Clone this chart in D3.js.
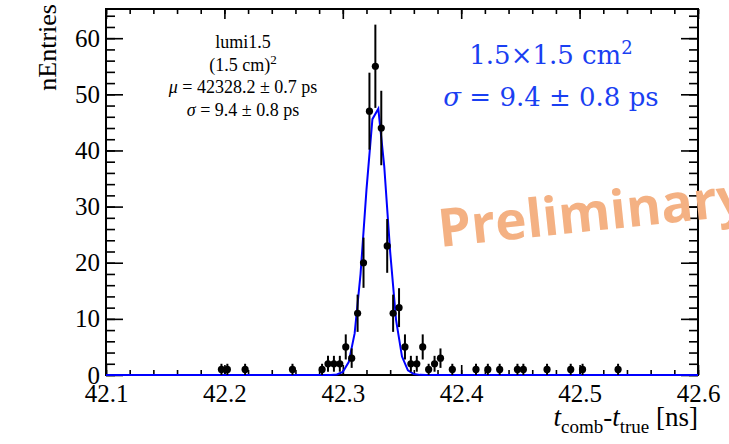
<!DOCTYPE html>
<html>
<head>
<meta charset="utf-8">
<script src="https://cdn.jsdelivr.net/npm/d3@7"></script>
<style>
  body { margin: 0; background: #fff; }
  svg { display: block; }
  .serif { font-family: "Liberation Serif", "Times New Roman", serif; }
</style>
</head>
<body>
<svg id="chart" width="729" height="444"></svg>
<script>
/*
  Time resolution histogram with gaussian fit.
*/

// Histogram bins: centre (ns) and entries. Empty bins are left out.
const binCenters = [42.1975, 42.2025, 42.2175, 42.2575, 42.2825, 42.2875, 42.2925, 42.2975,
    42.3025, 42.3075, 42.3125, 42.3175, 42.3225, 42.3275, 42.3325, 42.3375, 42.3425, 42.3475,
    42.3525, 42.3575, 42.3625, 42.3675, 42.3725, 42.3775, 42.3825, 42.3925, 42.4125, 42.4225,
    42.4325, 42.4475, 42.4525, 42.4725, 42.4925, 42.5025, 42.5325];
const binCounts = [1, 1, 1, 1, 1, 2, 2, 2,
    5, 3, 11, 20, 47, 55, 44, 23, 11, 12,
    5, 2, 2, 5, 1, 2, 3, 1, 1, 1,
    1, 1, 1, 1, 1, 1, 1];

// Gaussian fit result (ns) and how the curve is sampled.
const fitMean = 42.3282;
const fitSigma = 0.0094;
const fitAmp = 48.3;
const fitNpx = 100;

// Axis ranges and ticks.
const xDomain = [42.1, 42.6];
const yDomain = [0, 65.2];
const xMajorTicks = [42.1, 42.2, 42.3, 42.4, 42.5, 42.6];
const xTickLabels = ["42.1", "42.2", "42.3", "42.4", "42.5", "42.6"];
const yMajorTicks = [0, 10, 20, 30, 40, 50, 60];
const yTickLabels = ["0", "10", "20", "30", "40", "50", "60"];

// Text boxes: [symbol, rest] per line.
const statsLines = [["", "lumi1.5"], ["", "(1.5 cm)"], ["\u03BC", " = 42328.2 \u00B1 0.7 ps"], ["\u03C3", " = 9.4 \u00B1 0.8 ps"]];
const noteLines = [["", "1.5\u00D71.5 cm"], ["\u03C3", " = 9.4 \u00B1 0.8 ps"]];

// Frame of the pad.
let svg = d3.select("#chart");
let padLeft = 106, padRight = 698, padTop = 9, padBottom = 375;

let x = d3.scaleLinear().domain(xDomain).range([padLeft, padRight]);
let y = d3.scaleLinear().domain(yDomain).range([padBottom, padTop]);

svg.append("rect").attr("width", 729).attr("height", 444).attr("fill", "#fff");

// Minor tick positions (every 0.02 ns and every 2 entries).
let xMinor = d3.range(26).map(i => xDomain[0] + i * 0.02);
let yMinor = d3.range(33).map(i => i * 2);

const drawAxis = (axis, transform, labels) => {
    let g = svg.append("g").attr("transform", transform).call(axis);
    g.attr("font-family", null).attr("font-size", null).attr("class", "serif");
    g.select(".domain").remove();
    g.selectAll("line").attr("stroke", "#000").attr("stroke-width", 1.6);
    g.selectAll("text").attr("fill", "#000").style("font-size", "25px");
    if (!labels) g.selectAll("text").remove();
    return g;
};

// Bottom axis with labels, ticks pointing inwards.
drawAxis(d3.axisBottom(x).tickValues(xMinor).tickSize(-5).tickSizeOuter(0).tickFormat(""), `translate(0,${padBottom})`, false);
drawAxis(d3.axisBottom(x).tickValues(xMajorTicks).tickSize(-10).tickSizeOuter(0).tickPadding(9)
    .tickFormat((d, i) => xTickLabels[i]), `translate(0,${padBottom})`, true);
// Top mirror ticks.
drawAxis(d3.axisTop(x).tickValues(xMinor).tickSize(-5).tickSizeOuter(0), `translate(0,${padTop})`, false);
drawAxis(d3.axisTop(x).tickValues(xMajorTicks).tickSize(-10).tickSizeOuter(0), `translate(0,${padTop})`, false);

// Left axis with labels.
drawAxis(d3.axisLeft(y).tickValues(yMinor).tickSize(-9).tickSizeOuter(0), `translate(${padLeft},0)`, false);
drawAxis(d3.axisLeft(y).tickValues(yMajorTicks).tickSize(-17).tickSizeOuter(0).tickPadding(6)
    .tickFormat((d, i) => yTickLabels[i]), `translate(${padLeft},0)`, true);
// Right mirror ticks.
drawAxis(d3.axisRight(y).tickValues(yMinor).tickSize(-9).tickSizeOuter(0), `translate(${padRight},0)`, false);
drawAxis(d3.axisRight(y).tickValues(yMajorTicks).tickSize(-17).tickSizeOuter(0), `translate(${padRight},0)`, false);

// Frame.
svg.append("rect")
    .attr("x", padLeft).attr("y", padTop)
    .attr("width", padRight - padLeft).attr("height", padBottom - padTop)
    .attr("fill", "none").attr("stroke", "#000").attr("stroke-width", 2);

// Watermark.
svg.append("text")
    .attr("transform", "translate(440,247) rotate(-6)")
    .attr("fill", "#f4b183")
    .style("font-family", "'Open Sans', sans-serif")
    .style("font-weight", 700)
    .style("font-size", "53px")
    .text("Preliminary");

// Fit curve, sampled like a TF1 over the full range.
let fitX = d3.range(fitNpx + 1).map(i => xDomain[0] + i * (xDomain[1] - xDomain[0]) / fitNpx);
let fitLine = d3.line()
    .x(d => x(d))
    .y(d => y(fitAmp * Math.exp(-0.5 * Math.pow((d - fitMean) / fitSigma, 2))));
svg.append("path")
    .datum(fitX)
    .attr("d", fitLine)
    .attr("fill", "none")
    .attr("stroke", "#0000ff")
    .attr("stroke-width", 2);

// Data points with poisson error bars.
let points = binCenters.map((c, i) => ({ c: c, n: binCounts[i] }));
let pts = svg.append("g");
pts.selectAll("line")
    .data(points)
    .enter().append("line")
    .attr("x1", d => x(d.c)).attr("x2", d => x(d.c))
    .attr("y1", d => y(d.n - Math.sqrt(d.n)))
    .attr("y2", d => y(d.n + Math.sqrt(d.n)))
    .attr("stroke", "#000").attr("stroke-width", 2);
pts.selectAll("circle")
    .data(points)
    .enter().append("circle")
    .attr("cx", d => x(d.c)).attr("cy", d => y(d.n))
    .attr("r", 3.6)
    .attr("fill", "#000");

// Axis titles.
svg.append("text")
    .attr("class", "serif")
    .attr("transform", "translate(56,4) rotate(-90)")
    .attr("text-anchor", "end")
    .style("font-size", "26px")
    .text("nEntries");

let xt = svg.append("text")
    .attr("class", "serif")
    .attr("x", padRight).attr("y", 426)
    .attr("text-anchor", "end")
    .style("font-size", "27px");
xt.append("tspan").style("font-style", "italic").text("t");
xt.append("tspan").attr("dy", 7).style("font-size", "19px").text("comb");
xt.append("tspan").attr("dy", -7).text("-");
xt.append("tspan").style("font-style", "italic").text("t");
xt.append("tspan").attr("dy", 7).style("font-size", "19px").text("true");
xt.append("tspan").attr("dy", -7).text(" [ns]");

// Fit summary box.
let statsY = [48, 71, 93, 116];
statsLines.forEach((s, i) => {
    let t = svg.append("text")
        .attr("class", "serif")
        .attr("x", 243).attr("y", statsY[i])
        .attr("text-anchor", "middle")
        .style("font-size", "18px");
    if (s[0]) t.append("tspan").style("font-style", "italic").text(s[0]);
    t.append("tspan").text(s[1]);
    if (i === 1) t.append("tspan").attr("dy", -7).style("font-size", "13px").text("2");
});

// Blue annotation.
let noteY = [64, 106];
noteLines.forEach((s, i) => {
    let t = svg.append("text")
        .attr("x", 551).attr("y", noteY[i])
        .attr("text-anchor", "middle")
        .attr("fill", "#1a3ff2")
        .style("font-family", "'DejaVu Serif', serif").style("font-size", "26px");
    if (s[0]) t.append("tspan").style("font-style", "italic").text(s[0]);
    t.append("tspan").text(s[1]);
    if (i === 0) t.append("tspan").attr("dy", -10).style("font-size", "18px").text("2");
});
</script>
</body>
</html>
